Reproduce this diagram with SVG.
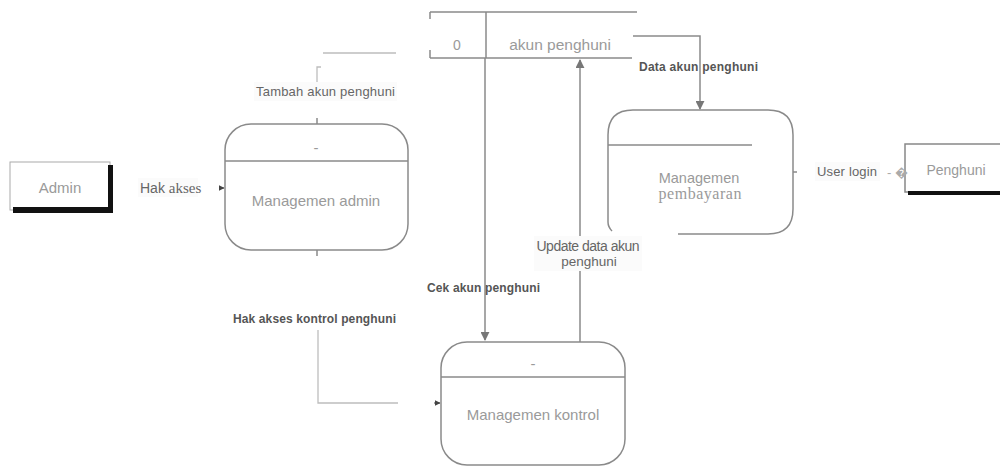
<svg xmlns="http://www.w3.org/2000/svg" width="1000" height="466" viewBox="0 0 1000 466">
<defs>
<style>
.node{fill:#fff;stroke:#8a8a8a;stroke-width:1.5}
.nl{font-family:"Liberation Sans",Arial,sans-serif;font-size:15px;fill:#9a9a9a;text-anchor:middle}
.ser{font-family:"Liberation Serif","Times New Roman",serif}
.lab{font-family:"Liberation Sans",Arial,sans-serif;font-size:13px;fill:#666}
.bl{font-family:"Liberation Sans",Arial,sans-serif;font-size:12px;font-weight:bold;fill:#555}
.con{fill:none;stroke:#8a8a8a;stroke-width:1.5}
.faint{fill:none;stroke:#bdbdbd;stroke-width:1.3}
.sh{fill:#111}
.bg{fill:#fbfbfb}
</style>
<marker id="arr" viewBox="0 0 10 10" refX="9" refY="5" markerWidth="9" markerHeight="9" markerUnits="userSpaceOnUse" orient="auto">
<path d="M0,0 L10,5 L0,10 z" fill="#777"/>
</marker>
<marker id="arrs" viewBox="0 0 10 10" refX="9" refY="5" markerWidth="6" markerHeight="6" markerUnits="userSpaceOnUse" orient="auto">
<path d="M0,0 L10,5 L0,10 z" fill="#444"/>
</marker>
</defs>
<rect width="1000" height="466" fill="#fff"/>

<g id="connectors">
<path class="con" d="M219,188 H224" marker-end="url(#arrs)"/>
<path class="con" d="M485,58 V340" marker-end="url(#arr)"/>
<path class="con" d="M580,342 V60" marker-end="url(#arr)"/>
<path class="con" d="M633,36 H700 V109" marker-end="url(#arr)"/>
<path class="faint" d="M317,85 V67 H321"/>
<path class="faint" d="M323,53 H396"/>
<path class="faint" d="M318,330 V403 H398"/>
<path class="con" d="M434,403 H440" marker-end="url(#arrs)"/>
<path class="con" d="M793,172 H797"/>
</g>

<g id="store">
<path class="con" d="M430,12 H637 M430,58 H632 M486,12 V58 M430,12 V19 M430,50 V58"/>
<text x="457" y="50" class="nl" style="font-size:14px">0</text>
<text x="560" y="50" class="nl" style="font-size:15.5px">akun penghuni</text>
</g>

<g id="admin">
<rect x="10" y="162" width="100" height="48" fill="#fff" stroke="#aaa" stroke-width="1"/>
<rect class="sh" x="108" y="165" width="5" height="48"/>
<rect class="sh" x="13" y="207" width="100" height="6"/>
<text x="60" y="193" class="nl">Admin</text>
</g>

<g id="managemen-admin">
<rect class="node" x="225" y="124" width="183" height="126" rx="26"/>
<path class="con" d="M225,161 H408 M317,118 V124 M317,250 V256"/>
<text x="316" y="153" class="nl">-</text>
<text x="316" y="206" class="nl">Managemen admin</text>
</g>

<g id="managemen-pembayaran">
<path class="node" d="M678,234 H768 Q793,234 793,209 V135 Q793,110 768,110 H633 Q608,110 608,135 V222 Q608,227 612,231"/>
<path class="con" d="M608,145 H752"/>
<text x="699" y="183" class="nl" style="font-size:14.5px">Managemen</text>
<text x="700" y="199" class="nl ser" style="font-size:16px" textLength="83">pembayaran</text>
</g>

<g id="managemen-kontrol">
<rect class="node" x="441" y="342" width="184" height="123" rx="26"/>
<path class="con" d="M441,377 H625"/>
<text x="533" y="369" class="nl">-</text>
<text x="533" y="420" class="nl">Managemen kontrol</text>
</g>

<g id="penghuni">
<rect x="905" y="144" width="100" height="48" fill="#fff" stroke="#888" stroke-width="1.5"/>
<rect class="sh" x="908" y="191" width="95" height="4"/>
<text x="956" y="175" class="nl" style="font-size:14px">Penghuni</text>
</g>

<g id="labels">
<rect class="bg" x="254" y="82" width="143" height="19"/>
<text x="256" y="96" class="lab" textLength="139">Tambah akun penghuni</text>
<rect class="bg" x="138" y="178" width="60" height="19"/>
<text x="140" y="193" class="lab" style="font-size:14px">Hak <tspan class="ser" style="font-size:15px">akses</tspan></text>
<text x="639" y="71" class="bl" textLength="119">Data akun penghuni</text>
<text x="427" y="292" class="bl" textLength="113">Cek akun penghuni</text>
<rect class="bg" x="534" y="236" width="108" height="35"/>
<text x="588" y="251" class="lab ser" style="font-size:14px" text-anchor="middle" textLength="103">Update data akun</text>
<text x="589" y="266" class="lab" style="font-size:13.5px" text-anchor="middle">penghuni</text>
<text x="233" y="323" class="bl" textLength="163">Hak akses kontrol penghuni</text>
<rect class="bg" x="815" y="162" width="65" height="19"/>
<text x="817" y="176" class="lab ser" textLength="60">User login</text>
<text x="887" y="177" class="lab" style="fill:#aaa">- �</text>
</g>
</svg>
